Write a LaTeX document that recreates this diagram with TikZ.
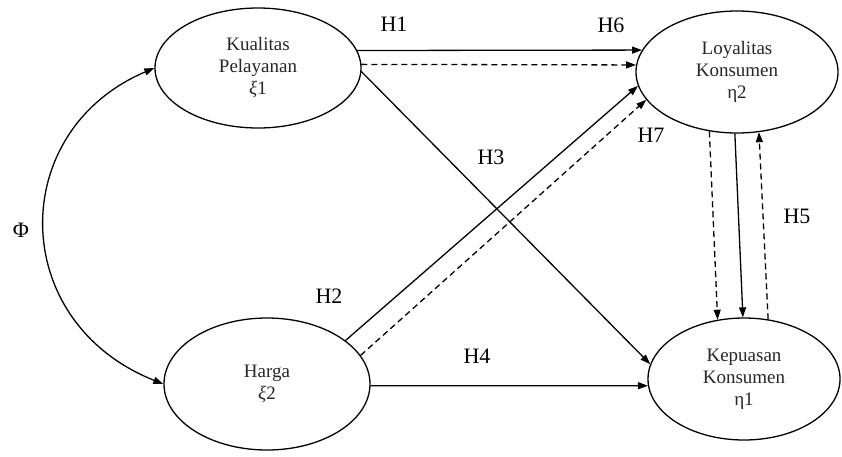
\documentclass[tikz,border=0pt]{standalone}
\usepackage{fontspec}
\setmainfont{Liberation Serif}
\usetikzlibrary{arrows.meta,shapes.geometric}
\begin{document}
\begin{tikzpicture}[x=1pt,y=-1pt,
  ell/.style={ellipse, draw, line width=1.3pt, inner sep=0pt, align=center,
    font=\fontsize{19}{22}\selectfont, text=black!85},
  lab/.style={font=\fontsize{22}{24}\selectfont, inner sep=0pt},
  tip/.style={-{Triangle[length=10pt,width=7pt]}},
  arr/.style={line width=1.3pt, tip},
  dsh/.style={arr, dash pattern=on 6pt off 4pt}]
\useasboundingbox (0,0) rectangle (842,456);
\node[ell, minimum width=206pt, minimum height=120pt] (kp) at (258,68) {Kualitas\\Pelayanan\\\textit{ξ}1};
\node[ell, minimum width=202pt, minimum height=122pt] (lk) at (737,72) {Loyalitas\\Konsumen\\η2};
\node[ell, minimum width=206pt, minimum height=132pt] (hg) at (267,384) {Harga\\\textit{ξ}2};
\node[ell, minimum width=192pt, minimum height=122pt] (kk) at (744,379) {Kepuasan\\Konsumen\\η1};
\draw[arr] (kp.10) -- (lk.167);
\draw[dsh] (kp.2) -- (lk.176);
\draw[arr] (kp.-2) -- (kk.171);
\draw[arr] (hg.29) -- (lk.188);
\draw[dsh] (hg.17) -- (lk.197);
\draw[arr] (hg.-1) -- (kk.184);
\draw[dsh] (lk.245) -- (kk.114);
\draw[arr] (lk.268) -- (kk.91);
\draw[dsh] (kk.68) -- (lk.290);
\draw[line width=1.3pt, {Triangle[length=10pt,width=7pt]}-{Triangle[length=10pt,width=7pt]}]
  (kp.west) .. controls +(-148,63) and +(-156,-62) .. (hg.west);
\node[lab] (h1) at (394,24) {H1};
\node[lab] (h6) at (611,25) {H6};
\node[lab] (h3) at (491,157) {H3};
\node[lab] (h7) at (651,135) {H7};
\node[lab] (h5) at (797,216) {H5};
\node[lab] (h2) at (329,296) {H2};
\node[lab] (h4) at (477,356) {H4};
\node[lab] (phi) at (21,230) {Φ};
\end{tikzpicture}
\end{document}
